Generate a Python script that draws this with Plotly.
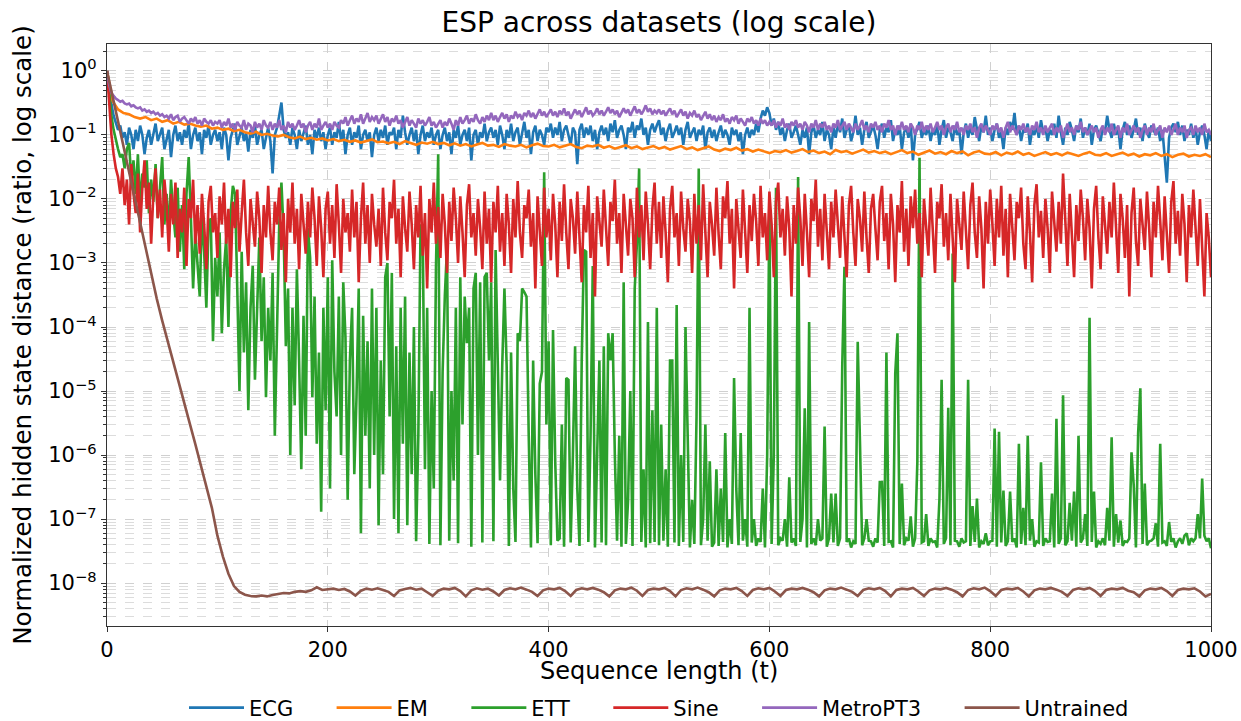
import plotly.graph_objects as go

# Sequence length grids
t2 = list(range(0, 1001, 2))   # for the noisier series
t5 = list(range(0, 1001, 5))   # for the smoother series

ECG = [
 1.0, 0.5, 0.3, 0.2, 0.15, 0.12, 0.14, 0.09, 0.11, 0.07, 0.13, 0.1, 0.06, 0.12, 0.08, 0.14, 0.1, 0.05, 0.09, 0.12, 0.07, 0.11, 0.15, 0.08, 0.1,
 0.13, 0.06, 0.09, 0.12, 0.045, 0.1, 0.14, 0.08, 0.11, 0.07, 0.12, 0.09, 0.15, 0.06, 0.1, 0.13, 0.08, 0.11, 0.05, 0.12, 0.09, 0.14, 0.07, 0.1, 0.12,
 0.08, 0.11, 0.06, 0.13, 0.1, 0.04, 0.09, 0.12, 0.15, 0.07, 0.1, 0.13, 0.08, 0.11, 0.055, 0.12, 0.09, 0.14, 0.07, 0.1, 0.12, 0.06, 0.09, 0.13, 0.08,
 0.025, 0.1, 0.13, 0.2, 0.32, 0.12, 0.09, 0.11, 0.07, 0.13, 0.1, 0.06, 0.12, 0.08, 0.11, 0.14, 0.07, 0.1, 0.05, 0.12, 0.09, 0.13, 0.08, 0.11, 0.06,
 0.1, 0.13, 0.07, 0.11, 0.09, 0.16, 0.08, 0.12, 0.05, 0.1, 0.13, 0.07, 0.11, 0.09, 0.14, 0.06, 0.1, 0.12, 0.08, 0.11, 0.045, 0.1, 0.13, 0.08, 0.12,
 0.09, 0.14, 0.07, 0.11, 0.1, 0.13, 0.06, 0.12, 0.09, 0.2, 0.11, 0.07, 0.1, 0.13, 0.08, 0.12, 0.05, 0.1, 0.14, 0.08, 0.11, 0.09, 0.13, 0.07, 0.1,
 0.12, 0.06, 0.1, 0.13, 0.08, 0.11, 0.05, 0.12, 0.09, 0.14, 0.07, 0.1, 0.12, 0.08, 0.13, 0.04, 0.1, 0.12, 0.07, 0.11, 0.09, 0.15, 0.08, 0.11, 0.13,
 0.09, 0.12, 0.07, 0.14, 0.1, 0.06, 0.12, 0.09, 0.15, 0.08, 0.11, 0.13, 0.07, 0.1, 0.16, 0.09, 0.12, 0.05, 0.11, 0.14, 0.08, 0.12, 0.1, 0.07, 0.13,
 0.11, 0.15, 0.09, 0.13, 0.1, 0.16, 0.08, 0.12, 0.14, 0.1, 0.07, 0.13, 0.11, 0.035, 0.12, 0.15, 0.09, 0.13, 0.1, 0.14, 0.08, 0.12, 0.06, 0.11, 0.14,
 0.1, 0.13, 0.08, 0.15, 0.11, 0.17, 0.09, 0.12, 0.14, 0.1, 0.06, 0.13, 0.11, 0.16, 0.09, 0.14, 0.12, 0.18, 0.1, 0.13, 0.07, 0.12, 0.15, 0.11, 0.14,
 0.17, 0.1, 0.13, 0.08, 0.12, 0.15, 0.09, 0.11, 0.14, 0.1, 0.13, 0.07, 0.12, 0.16, 0.09, 0.11, 0.13, 0.08, 0.12, 0.1, 0.14, 0.06, 0.11, 0.13, 0.09,
 0.12, 0.08, 0.11, 0.14, 0.09, 0.12, 0.1, 0.07, 0.13, 0.1, 0.12, 0.08, 0.11, 0.05, 0.1, 0.13, 0.09, 0.12, 0.1, 0.15, 0.11, 0.18, 0.24, 0.2, 0.27,
 0.22, 0.14, 0.18, 0.12, 0.16, 0.1, 0.13, 0.08, 0.12, 0.15, 0.09, 0.11, 0.14, 0.1, 0.07, 0.12, 0.09, 0.13, 0.05, 0.11, 0.14, 0.09, 0.12, 0.1, 0.16,
 0.08, 0.12, 0.1, 0.06, 0.13, 0.09, 0.15, 0.11, 0.18, 0.09, 0.12, 0.14, 0.08, 0.11, 0.2, 0.1, 0.13, 0.07, 0.12, 0.16, 0.09, 0.11, 0.14, 0.1, 0.06,
 0.12, 0.15, 0.09, 0.13, 0.11, 0.17, 0.08, 0.12, 0.1, 0.14, 0.06, 0.11, 0.13, 0.09, 0.15, 0.04, 0.1, 0.13, 0.16, 0.09, 0.12, 0.1, 0.14, 0.08, 0.12,
 0.1, 0.15, 0.07, 0.12, 0.17, 0.09, 0.13, 0.11, 0.08, 0.14, 0.1, 0.12, 0.05, 0.11, 0.15, 0.09, 0.13, 0.1, 0.19, 0.12, 0.08, 0.14, 0.11, 0.2, 0.1,
 0.13, 0.08, 0.12, 0.15, 0.09, 0.11, 0.06, 0.13, 0.1, 0.16, 0.12, 0.22, 0.1, 0.14, 0.08, 0.12, 0.11, 0.15, 0.07, 0.12, 0.1, 0.14, 0.09, 0.17, 0.11,
 0.13, 0.08, 0.12, 0.1, 0.15, 0.09, 0.2, 0.11, 0.07, 0.13, 0.1, 0.16, 0.12, 0.08, 0.14, 0.11, 0.18, 0.09, 0.13, 0.1, 0.15, 0.07, 0.12, 0.14, 0.1,
 0.08, 0.13, 0.11, 0.2, 0.12, 0.09, 0.15, 0.1, 0.13, 0.06, 0.12, 0.16, 0.1, 0.14, 0.09, 0.12, 0.18, 0.1, 0.13, 0.08, 0.15, 0.11, 0.09, 0.14, 0.12,
 0.1, 0.13, 0.08, 0.12, 0.05, 0.018, 0.09, 0.13, 0.15, 0.11, 0.16, 0.1, 0.14, 0.08, 0.12, 0.1, 0.15, 0.09, 0.13, 0.07, 0.11, 0.14, 0.1, 0.06, 0.12,
 0.08]

EM = [
 1.0, 0.34, 0.25, 0.22, 0.21, 0.19, 0.18, 0.19, 0.17, 0.18, 0.16, 0.17, 0.15, 0.16, 0.145, 0.15, 0.14, 0.135, 0.14, 0.125,
 0.13, 0.12, 0.125, 0.115, 0.12, 0.11, 0.105, 0.112, 0.10, 0.104, 0.098, 0.095, 0.10, 0.092, 0.088, 0.094, 0.086, 0.09, 0.084, 0.088,
 0.082, 0.086, 0.08, 0.084, 0.078, 0.082, 0.076, 0.08, 0.085, 0.077, 0.079, 0.074, 0.078, 0.072, 0.08, 0.075, 0.07, 0.076, 0.073, 0.078,
 0.072, 0.075, 0.069, 0.074, 0.068, 0.072, 0.066, 0.071, 0.075, 0.068, 0.07, 0.065, 0.072, 0.068, 0.066, 0.07, 0.064, 0.069, 0.073, 0.067,
 0.066, 0.07, 0.064, 0.068, 0.072, 0.065, 0.062, 0.068, 0.066, 0.07, 0.063, 0.067, 0.061, 0.065, 0.069, 0.062, 0.066, 0.06, 0.064, 0.067,
 0.061, 0.065, 0.059, 0.063, 0.067, 0.06, 0.064, 0.058, 0.062, 0.066, 0.059, 0.056, 0.061, 0.058, 0.063, 0.057, 0.06, 0.055, 0.059, 0.056,
 0.052, 0.056, 0.054, 0.058, 0.053, 0.056, 0.06, 0.054, 0.057, 0.052, 0.055, 0.05, 0.058, 0.054, 0.056, 0.051, 0.055, 0.059, 0.053, 0.056,
 0.052, 0.055, 0.05, 0.054, 0.058, 0.052, 0.055, 0.049, 0.053, 0.057, 0.051, 0.054, 0.05, 0.056, 0.052, 0.055, 0.048, 0.053, 0.056, 0.051,
 0.05, 0.054, 0.048, 0.053, 0.05, 0.055, 0.049, 0.052, 0.047, 0.051, 0.054, 0.049, 0.052, 0.048, 0.053, 0.05, 0.047, 0.051, 0.054, 0.049,
 0.048, 0.052, 0.047, 0.05, 0.053, 0.048, 0.051, 0.046, 0.05, 0.048, 0.052, 0.047, 0.05, 0.045, 0.049, 0.051, 0.046, 0.049, 0.047, 0.05,
 0.045]

ETT = [
 1.0, 0.4, 0.2, 0.12, 0.08, 0.06, 0.045, 0.05, 0.03, 0.06, 0.075, 0.02, 0.04, 0.012, 0.05, 0.008, 0.025, 0.015, 0.04, 0.006, 0.02, 0.009, 0.035, 0.005, 0.015,
 0.045, 0.004, 0.012, 0.003, 0.02, 0.006, 0.0025, 0.015, 0.0015, 0.008, 0.0008, 0.012, 0.045, 0.005, 0.0004, 0.003, 0.0009, 0.0003, 0.006, 0.0015, 0.0002, 0.004, 0.005, 6e-5, 0.0012,
 3e-4, 3e-3, 8e-5, 8e-4, 2.5e-3, 1e-4, 6e-3, 0.016, 0.012, 4e-4, 1e-5, 1.5e-3, 4e-5, 5e-4, 5e-6, 2e-4, 9e-4, 1.5e-5, 3e-4, 2.5e-3, 6e-5, 6e-4, 8e-6, 2e-4, 3e-5,
 7e-4, 2e-6, 1e-4, 4e-3, 0.018, 3e-3, 5e-5, 4e-4, 1e-6, 2e-4, 6e-6, 8e-4, 3e-5, 6e-7, 1.5e-4, 2e-6, 3.5e-3, 1.2e-3, 8e-6, 3e-4, 1.5e-6, 4e-5, 1.3e-7, 2e-4, 5e-6,
 6e-4, 3e-7, 1.1e-3, 2e-5, 4e-6, 3e-4, 1e-6, 5e-4, 7e-5, 2e-7, 3e-5, 2e-4, 5e-7, 8e-6, 4e-4, 6e-8, 1.5e-4, 2e-6, 6e-5, 3e-7, 4e-4, 1e-6, 2e-4, 8e-8, 3e-5,
 5e-7, 6e-4, 1e-3, 4e-6, 7e-4, 1e-7, 5e-5, 6e-8, 2e-4, 1.5e-6, 3e-4, 8e-8, 4e-5, 5e-7, 1e-4, 4.5e-8, 2e-6, 4e-3, 3e-3, 6e-7, 2e-4, 4.1e-8, 1e-5, 3e-7, 9e-4,
 0.05, 3.9e-8, 2e-5, 3e-4, 1.8e-3, 4.6e-8, 1e-5, 4e-7, 2e-4, 4.2e-8, 6e-4, 3e-6, 3e-4, 5.6e-5, 2e-4, 3.7e-8, 4e-4, 7e-4, 1e-6, 5e-4, 4.3e-8, 6e-4, 7e-4, 3e-5, 5e-4,
 4.5e-8, 1.6e-3, 2.5e-5, 4e-7, 2.5e-5, 4e-4, 2.5e-5, 3.8e-8, 4e-5, 3e-7, 4.4e-8, 8e-5, 6e-5, 4e-4, 3.5e-4, 3e-4, 2e-6, 3.6e-8, 3e-5, 5e-7, 4.2e-8, 1.3e-5, 2e-5, 0.026, 3e-6,
 6e-5, 3.9e-8, 9e-5, 8e-7, 4.6e-8, 5e-8, 3e-6, 3.7e-8, 1.6e-5, 1.5e-5, 4.3e-8, 1e-6, 5e-5, 3e-7, 3.8e-8, 3e-5, 1.6e-3, 1.5e-3, 4.4e-8, 2e-6, 9e-4, 3.6e-8, 7e-7, 3e-5, 4.3e-8,
 5e-5, 3.9e-8, 8e-5, 3e-5, 8e-5, 1e-6, 4.6e-8, 2e-6, 3.7e-8, 5e-4, 4.1e-8, 2e-7, 1e-5, 3.8e-8, 4e-4, 2e-3, 0.03, 4.4e-8, 6e-7, 3.6e-8, 1.2e-4, 4.2e-8, 5e-6, 4.4e-8, 2e-4,
 3.9e-8, 3e-6, 4.6e-8, 6e-7, 3.7e-8, 3e-5, 3e-5, 4.3e-8, 2.2e-4, 3.8e-8, 1e-6, 4.4e-8, 1e-4, 3e-6, 3.6e-8, 2e-7, 4.1e-8, 4e-6, 0.03, 3.9e-8, 1e-7, 3e-6, 4.6e-8, 8e-7, 3.7e-8,
 4.3e-8, 6e-7, 3.8e-8, 3e-7, 4.4e-8, 2.2e-6, 3.6e-8, 1e-7, 4.1e-8, 1.6e-5, 3e-7, 3.9e-8, 2.2e-6, 4.6e-8, 1e-7, 3.7e-8, 2e-4, 4.3e-8, 1e-7, 3.8e-8, 5e-8, 4.4e-8, 3e-7, 3.6e-8, 1e-6,
 0.01, 4.1e-8, 1e-6, 0.015, 3.9e-8, 5e-8, 4.6e-8, 1e-7, 3.7e-8, 4.5e-7, 4.3e-8, 5e-8, 3.8e-8, 0.022, 4.4e-8, 1e-7, 5.4e-6, 3.6e-8, 1.2e-4, 4.1e-8, 5e-8, 3.9e-8, 1e-7, 4.6e-8, 5e-8,
 2.8e-6, 3.7e-8, 5e-8, 2.5e-7, 4.3e-8, 2.5e-7, 3.8e-8, 5e-8, 2.5e-5, 8.7e-4, 4.4e-8, 5e-8, 3.6e-8, 4.5e-8, 4.1e-8, 5.9e-5, 1.7e-6, 3.9e-8, 5e-8, 1e-7, 4.6e-8, 4.5e-8, 3.7e-8, 5e-8, 4.3e-8,
 3.8e-7, 3.8e-7, 3.8e-8, 4e-5, 4.4e-8, 4.5e-8, 3.6e-8, 1.9e-5, 8e-5, 4.1e-8, 3.6e-7, 3.9e-8, 5e-8, 4.6e-8, 1.1e-7, 3.7e-8, 5e-8, 7.7e-7, 0.044, 4.3e-8, 4.5e-8, 1.2e-7, 3.8e-8, 5e-8, 4.4e-8,
 4.5e-8, 3.6e-8, 2e-7, 1.5e-5, 4.1e-8, 5e-8, 5.5e-6, 3.9e-8, 1.4e-3, 4.6e-8, 4.5e-8, 3.7e-8, 5e-8, 4.3e-8, 4.5e-8, 1.5e-5, 3.8e-8, 1.6e-7, 4.4e-8, 2.1e-7, 3.6e-8, 4.5e-8, 4.1e-8, 6e-8, 3.9e-8,
 4.5e-8, 4.6e-8, 2.6e-6, 3.7e-8, 2.3e-6, 4.3e-8, 2.8e-7, 3.8e-8, 4.5e-8, 2.7e-7, 4.4e-8, 5e-8, 3.6e-8, 1.5e-6, 4.1e-8, 1.5e-7, 3.9e-8, 2e-6, 4.6e-8, 1e-7, 3.7e-8, 4.5e-8, 4.3e-8, 7.7e-7, 3.8e-8,
 5e-8, 4.4e-8, 4.5e-8, 2.5e-7, 3.6e-8, 3.7e-6, 4.1e-8, 5e-8, 8.6e-6, 3.9e-8, 4.5e-8, 1.8e-7, 4.6e-8, 2.7e-7, 3.7e-8, 2e-6, 4.3e-8, 5e-8, 1.2e-7, 3.8e-8, 1.4e-4, 4.4e-8, 2.7e-7, 3.6e-8, 4.5e-8,
 4.1e-8, 5e-8, 3.9e-8, 1.5e-7, 4.6e-8, 1.9e-6, 3.7e-8, 1.2e-7, 4.3e-8, 9.5e-8, 3.8e-8, 4.5e-8, 4.4e-8, 5e-8, 1.1e-6, 3.4e-7, 3.6e-8, 2.2e-6, 1.1e-5, 4.1e-8, 3.6e-7, 3.9e-8, 4.5e-8, 4.6e-8, 5e-8,
 8.6e-8, 3.7e-8, 1.5e-6, 4.3e-8, 4.5e-8, 3.8e-8, 9e-8, 4.4e-8, 5e-8, 3.6e-8, 4.5e-8, 5e-8, 4.1e-8, 5.5e-8, 6e-8, 3.9e-8, 5e-8, 4.5e-8, 5e-8, 1.2e-7, 5e-8, 4.3e-7, 5.5e-8, 4.5e-8, 5e-8,
 3.5e-8]

Sine = [
 1.0, 0.3, 0.1, 0.05, 0.03, 0.022, 0.012, 0.03, 0.008, 0.02, 0.004, 0.035, 0.012, 0.006, 0.025, 0.003, 0.015, 0.04, 0.007, 0.018, 0.002, 0.012, 0.03, 0.005, 0.014,
 0.0025, 0.02, 0.008, 0.0015, 0.012, 0.004, 0.018, 0.0012, 0.007, 0.003, 0.015, 0.0009, 0.01, 0.005, 0.02, 0.002, 0.008, 0.0014, 0.012, 0.004, 0.0008, 0.009, 0.016, 0.003, 0.006,
 0.0012, 0.011, 0.004, 0.018, 0.002, 0.007, 0.0006, 0.009, 0.0035, 0.014, 0.0015, 0.006, 0.02, 0.003, 0.0009, 0.01, 0.0045, 0.0018, 0.013, 0.005, 0.0007, 0.008, 0.0025, 0.016, 0.003,
 0.0011, 0.009, 0.004, 0.015, 0.0016, 0.006, 0.0005, 0.01, 0.003, 0.018, 0.002, 0.007, 0.0008, 0.012, 0.004, 0.0014, 0.009, 0.0025, 0.015, 0.005, 0.0009, 0.011, 0.0035, 0.0006, 0.007,
 0.013, 0.002, 0.008, 0.0012, 0.017, 0.004, 0.0007, 0.01, 0.003, 0.006, 0.0015, 0.014, 0.0025, 0.009, 0.0005, 0.005, 0.018, 0.002, 0.008, 0.001, 0.012, 0.004, 0.0018, 0.007, 0.0009,
 0.015, 0.003, 0.0011, 0.009, 0.005, 0.02, 0.002, 0.007, 0.0006, 0.011, 0.0035, 0.0015, 0.013, 0.004, 0.0008, 0.008, 0.0025, 0.016, 0.0013, 0.006, 0.0004, 0.01, 0.003, 0.018, 0.002,
 0.0075, 0.0012, 0.012, 0.004, 0.0007, 0.009, 0.0022, 0.015, 0.005, 0.001, 0.011, 0.003, 0.0006, 0.008, 0.017, 0.0025, 0.006, 0.0013, 0.01, 0.0035, 0.0008, 0.013, 0.002, 0.007, 0.0005,
 0.009, 0.003, 0.016, 0.0015, 0.006, 0.0009, 0.012, 0.004, 0.0007, 0.01, 0.0025, 0.019, 0.003, 0.0012, 0.008, 0.005, 0.014, 0.0018, 0.006, 0.0004, 0.011, 0.0035, 0.0009, 0.015, 0.0025,
 0.007, 0.0011, 0.012, 0.004, 0.0006, 0.009, 0.0022, 0.017, 0.003, 0.0008, 0.01, 0.005, 0.0014, 0.013, 0.0025, 0.0005, 0.008, 0.003, 0.016, 0.0012, 0.006, 0.0003, 0.011, 0.004, 0.0018,
 0.014, 0.003, 0.0009, 0.009, 0.0045, 0.02, 0.002, 0.006, 0.0007, 0.012, 0.0035, 0.0013, 0.01, 0.005, 0.0006, 0.015, 0.0025, 0.008, 0.0011, 0.013, 0.004, 0.0008, 0.007, 0.018, 0.002,
 0.009, 0.0012, 0.011, 0.003, 0.0005, 0.007, 0.016, 0.0025, 0.006, 0.0009, 0.013, 0.0035, 0.0015, 0.01, 0.0045, 0.0007, 0.012, 0.002, 0.008, 0.0011, 0.017, 0.003, 0.0006, 0.009, 0.004,
 0.0013, 0.015, 0.0028, 0.0008, 0.011, 0.005, 0.019, 0.002, 0.007, 0.0004, 0.01, 0.0035, 0.0012, 0.014, 0.003, 0.0007, 0.008, 0.0022, 0.012, 0.0045, 0.0009, 0.016, 0.0025, 0.006, 0.0011,
 0.013, 0.004, 0.0006, 0.009, 0.018, 0.0025, 0.007, 0.0013, 0.011, 0.0035, 0.0003, 0.008, 0.002, 0.015, 0.005, 0.0009, 0.012, 0.003, 0.0006, 0.01, 0.0045, 0.02, 0.0018, 0.007, 0.0011,
 0.012, 0.003, 0.0008, 0.009, 0.0025, 0.014, 0.0045, 0.0012, 0.011, 0.002, 0.0006, 0.008, 0.016, 0.003, 0.0009, 0.01, 0.005, 0.0015, 0.013, 0.0025, 0.0007, 0.007, 0.012, 0.0035, 0.0011,
 0.009, 0.016, 0.0022, 0.006, 0.0008, 0.012, 0.004, 0.0005, 0.008, 0.003, 0.019, 0.0015, 0.007, 0.0009, 0.011, 0.0035, 0.014, 0.002, 0.006, 0.0006, 0.01, 0.004, 0.0013, 0.015, 0.0028,
 0.0007, 0.009, 0.005, 0.017, 0.0018, 0.006, 0.0011, 0.012, 0.003, 0.0005, 0.01, 0.0045, 0.0016, 0.013, 0.0025, 0.0008, 0.008, 0.018, 0.003, 0.0012, 0.011, 0.0035, 0.0004, 0.009, 0.002,
 0.014, 0.004, 0.0009, 0.01, 0.0025, 0.016, 0.0013, 0.007, 0.0006, 0.012, 0.0035, 0.0011, 0.009, 0.005, 0.015, 0.002, 0.0008, 0.011, 0.003, 0.0005, 0.008, 0.017, 0.0025, 0.0065, 0.0012,
 0.01, 0.0035, 0.0007, 0.013, 0.0045, 0.0015, 0.009, 0.002, 0.025, 0.004, 0.0009, 0.012, 0.003, 0.0006, 0.008, 0.0022, 0.014, 0.005, 0.0011, 0.01, 0.0035, 0.0004, 0.007, 0.016, 0.0025,
 0.0008, 0.011, 0.004, 0.0014, 0.009, 0.0025, 0.018, 0.003, 0.0007, 0.012, 0.005, 0.0012, 0.008, 0.0003, 0.006, 0.015, 0.0022, 0.0009, 0.01, 0.004, 0.0016, 0.013, 0.0035, 0.0006, 0.009,
 0.0025, 0.016, 0.0045, 0.0011, 0.011, 0.003, 0.0007, 0.009, 0.019, 0.002, 0.0065, 0.0013, 0.012, 0.004, 0.0005, 0.008, 0.0025, 0.014, 0.0035, 0.0009, 0.01, 0.002, 0.0003, 0.006, 0.0025,
 0.0006]

MetroPT3 = [
 1.0, 0.6, 0.45, 0.4, 0.37, 0.35, 0.33, 0.34, 0.31, 0.3, 0.31, 0.28, 0.29, 0.27, 0.26, 0.27, 0.24, 0.25, 0.23, 0.24, 0.22, 0.23, 0.21, 0.22, 0.2,
 0.21, 0.19, 0.2, 0.18, 0.21, 0.17, 0.19, 0.2, 0.16, 0.18, 0.19, 0.17, 0.15, 0.18, 0.16, 0.19, 0.15, 0.17, 0.14, 0.18, 0.16, 0.15, 0.17, 0.14, 0.16,
 0.15, 0.17, 0.13, 0.16, 0.14, 0.18, 0.13, 0.15, 0.12, 0.16, 0.14, 0.13, 0.17, 0.12, 0.15, 0.14, 0.11, 0.16, 0.13, 0.15, 0.12, 0.17, 0.14, 0.13, 0.16,
 0.12, 0.15, 0.13, 0.17, 0.12, 0.14, 0.11, 0.16, 0.13, 0.15, 0.12, 0.14, 0.17, 0.13, 0.15, 0.11, 0.14, 0.16, 0.12, 0.15, 0.13, 0.18, 0.12, 0.14, 0.16,
 0.13, 0.15, 0.12, 0.16, 0.14, 0.13, 0.17, 0.15, 0.19, 0.14, 0.17, 0.2, 0.15, 0.18, 0.16, 0.21, 0.15, 0.18, 0.22, 0.16, 0.19, 0.17, 0.2, 0.15, 0.18,
 0.21, 0.16, 0.19, 0.14, 0.18, 0.16, 0.2, 0.15, 0.17, 0.13, 0.16, 0.19, 0.14, 0.17, 0.15, 0.13, 0.18, 0.15, 0.17, 0.14, 0.16, 0.19, 0.14, 0.16, 0.13,
 0.15, 0.17, 0.13, 0.16, 0.14, 0.18, 0.15, 0.12, 0.17, 0.14, 0.19, 0.15, 0.17, 0.2, 0.15, 0.18, 0.16, 0.21, 0.17, 0.15, 0.19, 0.16, 0.2, 0.17, 0.22,
 0.17, 0.2, 0.16, 0.19, 0.22, 0.18, 0.21, 0.16, 0.2, 0.18, 0.23, 0.19, 0.21, 0.17, 0.22, 0.2, 0.24, 0.19, 0.22, 0.18, 0.21, 0.25, 0.2, 0.23, 0.19,
 0.22, 0.25, 0.2, 0.23, 0.19, 0.24, 0.21, 0.26, 0.2, 0.23, 0.18, 0.22, 0.25, 0.21, 0.24, 0.19, 0.23, 0.27, 0.21, 0.24, 0.2, 0.22, 0.26, 0.21, 0.24,
 0.2, 0.23, 0.27, 0.22, 0.25, 0.21, 0.24, 0.19, 0.23, 0.26, 0.22, 0.25, 0.2, 0.24, 0.28, 0.22, 0.25, 0.21, 0.24, 0.29, 0.23, 0.26, 0.21, 0.24, 0.22,
 0.25, 0.21, 0.24, 0.2, 0.23, 0.26, 0.21, 0.24, 0.19, 0.22, 0.25, 0.2, 0.23, 0.18, 0.22, 0.2, 0.24, 0.19, 0.21, 0.17, 0.2, 0.23, 0.18, 0.21, 0.17,
 0.2, 0.16, 0.19, 0.17, 0.21, 0.16, 0.18, 0.15, 0.19, 0.17, 0.2, 0.15, 0.18, 0.16, 0.14, 0.18, 0.16, 0.19, 0.15, 0.17, 0.14, 0.18, 0.15, 0.17, 0.14,
 0.16, 0.14, 0.17, 0.13, 0.16, 0.14, 0.18, 0.13, 0.15, 0.12, 0.16, 0.14, 0.17, 0.13, 0.15, 0.12, 0.16, 0.14, 0.11, 0.15, 0.13, 0.17, 0.12, 0.15, 0.13,
 0.16, 0.12, 0.14, 0.11, 0.15, 0.13, 0.17, 0.12, 0.14, 0.16, 0.12, 0.15, 0.13, 0.11, 0.15, 0.12, 0.14, 0.17, 0.12, 0.14, 0.11, 0.15, 0.13, 0.16, 0.12,
 0.14, 0.11, 0.15, 0.13, 0.17, 0.12, 0.14, 0.1, 0.14, 0.12, 0.16, 0.12, 0.14, 0.11, 0.15, 0.13, 0.1, 0.14, 0.12, 0.16, 0.11, 0.14, 0.12, 0.15, 0.11,
 0.13, 0.16, 0.12, 0.14, 0.1, 0.13, 0.15, 0.11, 0.14, 0.12, 0.16, 0.11, 0.13, 0.1, 0.14, 0.12, 0.15, 0.11, 0.13, 0.09, 0.13, 0.15, 0.11, 0.14, 0.12,
 0.1, 0.14, 0.12, 0.15, 0.11, 0.13, 0.09, 0.13, 0.16, 0.11, 0.14, 0.12, 0.1, 0.14, 0.12, 0.15, 0.11, 0.13, 0.1, 0.14, 0.12, 0.16, 0.11, 0.13, 0.1,
 0.14, 0.11, 0.13, 0.15, 0.1, 0.13, 0.11, 0.14, 0.09, 0.12, 0.15, 0.11, 0.13, 0.1, 0.14, 0.12, 0.16, 0.11, 0.13, 0.1, 0.12, 0.14, 0.11, 0.13, 0.09,
 0.12, 0.14, 0.1, 0.13, 0.11, 0.15, 0.1, 0.12, 0.14, 0.09, 0.13, 0.11, 0.15, 0.1, 0.12, 0.14, 0.11, 0.13, 0.09, 0.12, 0.14, 0.1, 0.13, 0.11, 0.15,
 0.1, 0.12, 0.14, 0.09, 0.13, 0.11, 0.14, 0.1, 0.12, 0.15, 0.1, 0.13, 0.11, 0.14, 0.09, 0.12, 0.13, 0.1, 0.14, 0.11, 0.13, 0.1, 0.15, 0.11, 0.12,
 0.1]

Untrained = [
 1.0, 0.40, 0.16, 0.063, 0.025, 0.010, 4.0e-3, 1.66e-3, 6.8e-4, 2.8e-4, 1.26e-4, 5.9e-5, 2.8e-5, 1.35e-5, 6.5e-6, 3.1e-6, 1.48e-6, 7.1e-7, 3.2e-7, 1.5e-7,
 5.5e-8, 2.6e-8, 1.4e-8, 9.0e-9, 7.3e-9, 6.6e-9, 6.3e-9, 6.2e-9, 6.4e-9, 6.2e-9, 6.5e-9, 6.8e-9, 7.0e-9, 6.9e-9, 7.3e-9, 7.5e-9, 7.3e-9, 7.7e-9, 8.6e-9, 7.8e-9,
 7.9e-9, 8.2e-9, 7.8e-9, 8.1e-9, 7.4e-9, 6.4e-9, 7.6e-9, 8.2e-9, 7.9e-9, 8.3e-9, 7.8e-9, 7.3e-9, 6.3e-9, 7.7e-9, 8.1e-9, 8.4e-9, 7.9e-9, 8.2e-9, 7.2e-9, 6.3e-9,
 7.6e-9, 8.2e-9, 8.0e-9, 8.4e-9, 7.5e-9, 6.2e-9, 7.7e-9, 8.3e-9, 7.9e-9, 8.2e-9, 7.4e-9, 6.4e-9, 7.8e-9, 8.3e-9, 8.0e-9, 8.5e-9, 7.9e-9, 7.3e-9, 6.3e-9, 7.7e-9,
 8.2e-9, 8.0e-9, 8.4e-9, 7.5e-9, 6.3e-9, 7.8e-9, 8.3e-9, 8.0e-9, 8.4e-9, 7.9e-9, 7.2e-9, 6.2e-9, 7.7e-9, 8.2e-9, 8.0e-9, 8.5e-9, 7.6e-9, 6.3e-9, 7.8e-9, 8.2e-9,
 8.0e-9, 8.4e-9, 7.5e-9, 6.2e-9, 7.8e-9, 8.3e-9, 8.0e-9, 8.5e-9, 7.9e-9, 7.2e-9, 6.2e-9, 7.7e-9, 8.2e-9, 8.0e-9, 8.4e-9, 7.5e-9, 6.3e-9, 7.8e-9, 8.3e-9, 8.0e-9,
 8.4e-9, 7.4e-9, 6.3e-9, 7.8e-9, 8.2e-9, 8.0e-9, 8.4e-9, 7.9e-9, 7.2e-9, 6.2e-9, 7.7e-9, 8.2e-9, 8.0e-9, 8.5e-9, 7.9e-9, 7.3e-9, 6.3e-9, 7.8e-9, 8.3e-9, 8.0e-9,
 8.4e-9, 7.5e-9, 6.2e-9, 7.8e-9, 8.2e-9, 8.0e-9, 8.4e-9, 7.4e-9, 6.3e-9, 7.7e-9, 8.2e-9, 8.0e-9, 8.4e-9, 7.9e-9, 7.2e-9, 6.2e-9, 7.8e-9, 8.3e-9, 8.0e-9, 8.5e-9,
 7.5e-9, 6.3e-9, 7.8e-9, 8.2e-9, 8.0e-9, 8.4e-9, 7.4e-9, 6.2e-9, 7.7e-9, 8.2e-9, 8.0e-9, 8.4e-9, 7.9e-9, 7.3e-9, 6.3e-9, 7.8e-9, 8.3e-9, 8.0e-9, 8.4e-9, 7.5e-9,
 6.3e-9, 7.8e-9, 8.2e-9, 8.0e-9, 8.4e-9, 7.6e-9, 7.2e-9, 6.2e-9, 7.7e-9, 8.2e-9, 8.0e-9, 8.4e-9, 7.5e-9, 6.3e-9, 7.8e-9, 8.2e-9, 8.0e-9, 8.3e-9, 7.4e-9, 6.2e-9,
 6.8e-9]

series_names = ["ECG", "EM", "ETT", "Sine", "MetroPT3", "Untrained"]
series_values = [ECG, EM, ETT, Sine, MetroPT3, Untrained]
series_t = [t2, t5, t2, t2, t2, t5]
colors = ["#1f77b4", "#ff7f0e", "#2ca02c", "#d62728", "#9467bd", "#8c564b"]

x_ticks = [0, 200, 400, 600, 800, 1000]
y_major = [10.0 ** e for e in range(-8, 1)]
y_major_text = ["10<sup>−8</sup>", "10<sup>−7</sup>", "10<sup>−6</sup>", "10<sup>−5</sup>",
                "10<sup>−4</sup>", "10<sup>−3</sup>", "10<sup>−2</sup>", "10<sup>−1</sup>", "10<sup>0</sup>"]
y_minor = [k * 10.0 ** e for e in range(-9, 1) for k in range(2, 10)]

FONT = "DejaVu Sans, sans-serif"
PAD = "\u00a0" * 5   # column spacing between legend entries

fig = go.Figure()
n_series = len(series_names)
for i, (name, vals, tt, col) in enumerate(zip(series_names, series_values, series_t, colors)):
    label = name if i == n_series - 1 else name + PAD
    fig.add_trace(go.Scatter(x=tt[:len(vals)], y=vals, mode="lines", name=label,
                             line=dict(color=col, width=2.6)))

fig.update_layout(
    width=1241, height=721,
    margin=dict(l=107, r=30, t=44, b=95, autoexpand=False),
    paper_bgcolor="white", plot_bgcolor="white",
    font=dict(family=FONT, color="black", size=21),
    title=dict(text="ESP across datasets (log scale)", x=0.531, xanchor="center",
               y=1 - 22 / 721, yanchor="middle", font=dict(size=28, family=FONT)),
    showlegend=True,
    legend=dict(orientation="h", x=0.5, xanchor="center",
                yref="container", y=1 - 708 / 721, yanchor="middle",
                font=dict(size=21, family=FONT), itemwidth=55, tracegroupgap=0),
    annotations=[dict(text="Sequence length (t)", xref="paper", yref="paper",
                      x=0.5, y=-(671 - 626) / 582, xanchor="center", yanchor="middle",
                      showarrow=False, font=dict(size=24, family=FONT))],
)

fig.update_xaxes(
    range=[0, 1000], tickvals=x_ticks, ticks="outside", ticklen=5, tickwidth=1.2,
    tickcolor="#333", showline=True, linecolor="#333", linewidth=1.3, mirror=True,
    showgrid=True, gridcolor="#d0d0d0", griddash="dash", gridwidth=1,
    zeroline=False, tickfont=dict(size=21), automargin=False,
)

fig.update_yaxes(
    type="log", range=[-8.67, 0.42], tickvals=y_major, ticktext=y_major_text,
    ticks="outside", ticklen=5, tickwidth=1.2, tickcolor="#333",
    showline=True, linecolor="#333", linewidth=1.3, mirror=True,
    showgrid=True, gridcolor="#d0d0d0", griddash="dash", gridwidth=1,
    zeroline=False, tickfont=dict(size=21), automargin=False,
    minor=dict(tickvals=y_minor, ticks="outside", ticklen=3, tickcolor="#333",
               showgrid=True, gridcolor="#dcdcdc", griddash="dash", gridwidth=0.8),
    title=dict(text="Normalized hidden state distance (ratio, log scale)", font=dict(size=24.5), standoff=9),
)

fig.write_html("out.html")
